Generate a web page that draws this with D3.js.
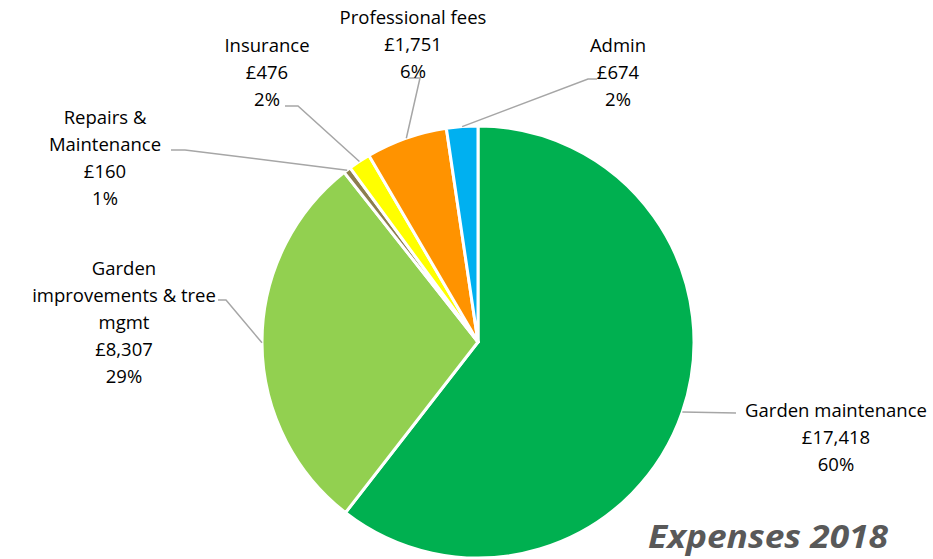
<!DOCTYPE html>
<html>
<head>
<meta charset="utf-8">
<script src="https://cdn.jsdelivr.net/npm/d3@7"></script>
<style>
  body { margin: 0; background: #fff; }
  svg { display: block; font-family: "Open Sans", "Noto Sans", sans-serif; }
</style>
</head>
<body>
<svg id="chart" width="933" height="559"></svg>
<script>
// data
const categories = ['Garden maintenance', 'Garden improvements & tree mgmt', 'Repairs & Maintenance',
  'Insurance', 'Professional fees', 'Admin'];
const amounts = [17418, 8307, 160, 476, 1751, 674];
const percentLabels = ['60%', '29%', '1%', '2%', '6%', '2%'];
const colours = ['#00B050', '#92D050', '#8C7E4E', '#FFFF00', '#FF9300', '#00B0F0'];

// label text lines, label centre and leader elbow (layout only)
const labelLines = [
  ['Garden maintenance'],
  ['Garden', 'improvements  & tree', 'mgmt'],
  ['Repairs &', 'Maintenance'],
  ['Insurance'],
  ['Professional  fees'],
  ['Admin']
];
const labelPos = [[836, 410], [124, 268], [105, 117], [267, 45], [413, 17], [618, 45]];
const elbows = [[736, 413], [[218, 300], [226, 300]], [[171, 150], [185, 150]],
  [[285, 106], [298, 106]], [[408, 78], [420, 78]], [[597, 79], [588, 79]]];

const svg = d3.select('#chart');
const cx = 478, cy = 342, radius = 216;
const lineH = 27;

const pie = d3.pie().sort(null).value(d => d)(amounts);
const arc = d3.arc().innerRadius(0).outerRadius(radius);
const edge = d3.arc().innerRadius(radius).outerRadius(radius);

const g = svg.append('g').attr('transform', `translate(${cx},${cy})`);

g.selectAll('path.slice')
  .data(pie)
  .enter().append('path')
    .attr('class', 'slice')
    .attr('d', arc)
    .attr('fill', (d, i) => colours[i])
    .attr('stroke', '#fff')
    .attr('stroke-width', 3)
    .attr('stroke-linejoin', 'round');

// leader lines
pie.forEach((d, i) => {
  let p = edge.centroid(d);
  let tip = [p[0] + cx, p[1] + cy];
  let e = elbows[i];
  let pts = Array.isArray(e[0]) ? [e[0], e[1], tip] : [e, tip];
  svg.append('polyline')
    .attr('points', pts.map(q => q.join(',')).join(' '))
    .attr('fill', 'none')
    .attr('stroke', '#A6A6A6')
    .attr('stroke-width', 1.5);
});

// labels
pie.forEach((d, i) => {
  let lines = labelLines[i].concat([`£${d3.format(',')(amounts[i])}`, percentLabels[i]]);
  let t = svg.append('text')
    .attr('text-anchor', 'middle')
    .attr('font-size', 18.5)
    .attr('fill', '#000');
  lines.forEach((s, j) => {
    t.append('tspan')
      .attr('x', labelPos[i][0])
      .attr('y', labelPos[i][1] + j * lineH + 7)
      .text(s);
  });
});

svg.append('text')
  .attr('x', 648)
  .attr('y', 548)
  .attr('textLength', 240)
  .attr('lengthAdjust', 'spacingAndGlyphs')
  .attr('font-size', 33)
  .attr('font-weight', 'bold')
  .attr('font-style', 'italic')
  .attr('fill', '#595959')
  .text('Expenses 2018');
</script>
</body>
</html>
